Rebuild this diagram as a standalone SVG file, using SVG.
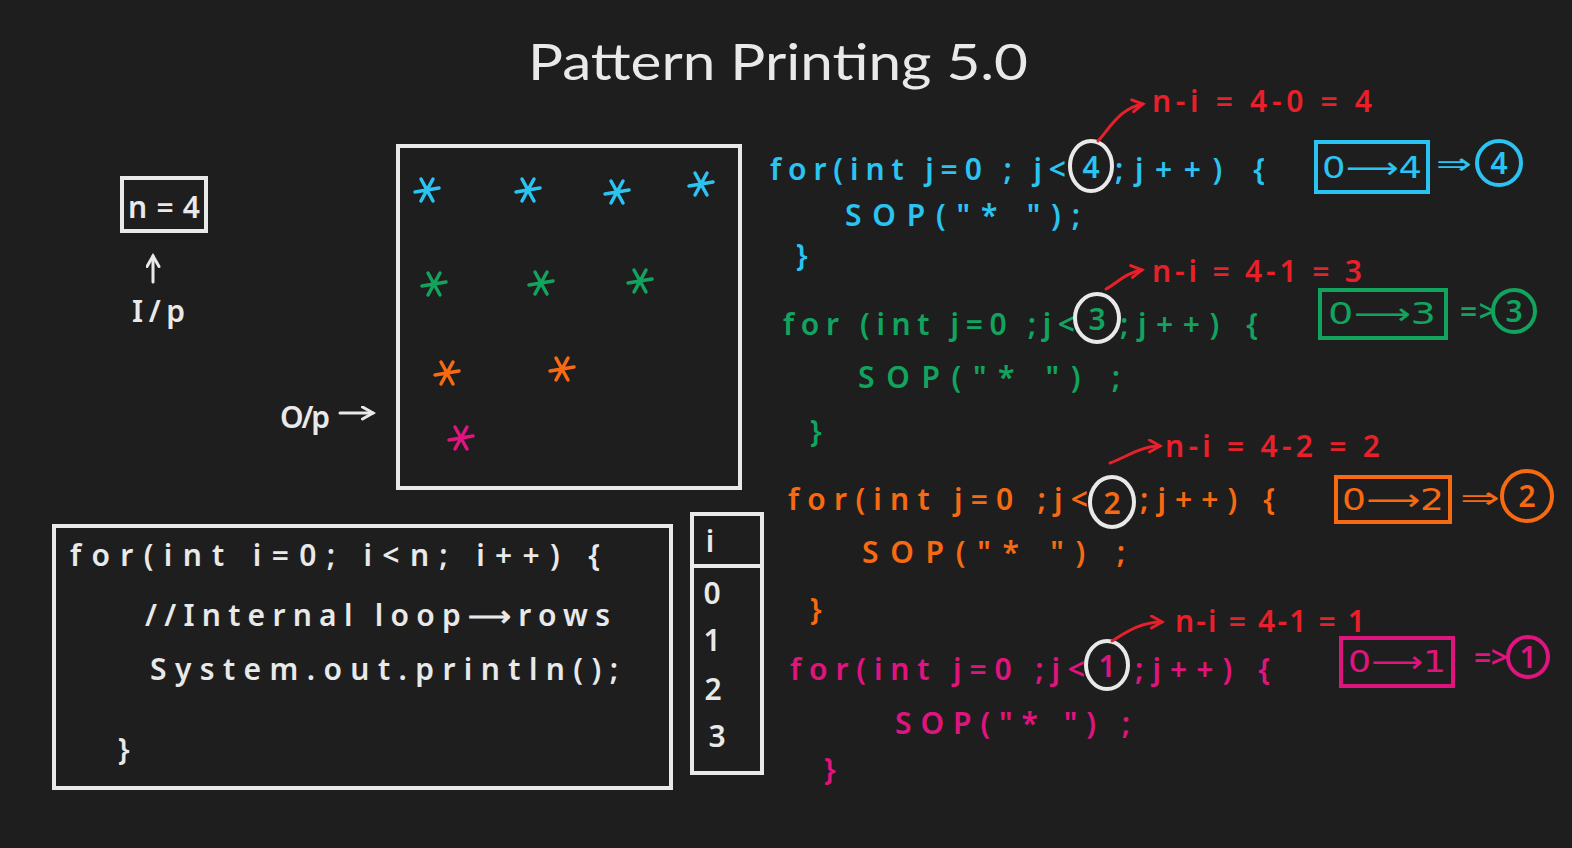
<svg xmlns="http://www.w3.org/2000/svg" width="1572" height="848" viewBox="0 0 1572 848">
<defs>
<style>
.t{font-family:"Noto Sans","Liberation Sans",sans-serif;font-weight:600;font-size:30px}
.d{font-family:"DejaVu Sans","Noto Sans",sans-serif;font-weight:400;font-size:30px}
.w{fill:#e9e9e9}.b{fill:#2bc4f2}.g{fill:#12a45f}.o{fill:#f76a12}.p{fill:#e0147f}.r{fill:#e8202a}
.sw{stroke:#e9e9e9}.sb{stroke:#2bc4f2}.sg{stroke:#12a45f}.so{stroke:#f76a12}.sp{stroke:#e0147f}.sr{stroke:#e8202a}
.box{fill:none;stroke-width:4;stroke-linecap:round}
.ln{fill:none;stroke-width:3;stroke-linecap:round;stroke-linejoin:round}
.c{text-anchor:middle}
</style>
<g id="star"><path d="M-12,2 L12,-2 M-6,-11 L6,11 M6,-11 L-6,11" stroke-width="3.5" stroke-linecap="round"/></g>
<marker id="ar" viewBox="0 0 10 10" refX="8" refY="5" markerWidth="5" markerHeight="5" orient="auto"><path d="M1,1 L8,5 L1,9" fill="none" stroke="#e8202a" stroke-width="2" stroke-linecap="round"/></marker>
<marker id="aw" viewBox="0 0 10 10" refX="8" refY="5" markerWidth="5" markerHeight="5" orient="auto"><path d="M1,1 L8,5 L1,9" fill="none" stroke="#e9e9e9" stroke-width="2" stroke-linecap="round"/></marker>
</defs>
<rect width="1572" height="848" fill="#1e1e1e"/>

<g id="title"><text x="528" y="80" class="w" font-family="Lato,'Noto Sans',sans-serif" font-size="50" font-weight="400" textLength="500" lengthAdjust="spacingAndGlyphs">Pattern Printing 5.0</text></g>

<g id="input">
<rect x="122" y="178" width="84" height="53" class="box sw"/>
<text x="128" y="218" class="t w" textLength="72">n=4</text>
<text x="132" y="322" class="t w" textLength="53">I/p</text>
</g>

<g id="output">
<rect x="398" y="146" width="342" height="342" class="box sw"/>
<text x="280" y="428" class="t w" textLength="50">O/p</text>
<use href="#star" x="427" y="190" class="sb"/>
<use href="#star" x="528" y="190" class="sb"/>
<use href="#star" x="617" y="192" class="sb"/>
<use href="#star" x="701" y="184" class="sb"/>
<use href="#star" x="434" y="284" class="sg"/>
<use href="#star" x="541" y="283" class="sg"/>
<use href="#star" x="640" y="281" class="sg"/>
<use href="#star" x="447" y="373" class="so"/>
<use href="#star" x="562" y="369" class="so"/>
<use href="#star" x="461" y="438" class="sp"/>
</g>

<g id="outer-loop">
<rect x="54" y="526" width="617" height="262" class="box sw"/>
<text x="70" y="566" class="t w" textLength="530">for(int i=0; i&lt;n; i++) {</text>
<text x="145" y="626" class="t w" textLength="465">//Internal loop⟶rows</text>
<text x="150" y="680" class="t w" textLength="468">System.out.println();</text>
<text x="118" y="760" class="t w" font-size="40">}</text>
</g>

<g id="i-table">
<rect x="692" y="514" width="70" height="259" class="box sw"/>
<line x1="692" y1="566" x2="762" y2="566" class="box sw"/>
<text x="710" y="552" class="t w c">i</text>
<text x="712" y="604" class="t w c">0</text>
<text x="712" y="651" class="t w c">1</text>
<text x="713" y="700" class="t w c">2</text>
<text x="717" y="747" class="t w c">3</text>
</g>

<g id="loop-i0">
<text x="770" y="180" class="t b" textLength="296">for(int j=0 ; j&lt;</text>
<ellipse cx="1091" cy="166" rx="21" ry="25" class="box sw"/>
<text x="1091" y="178" class="t b c">4</text>
<text x="1115" y="180" class="t b" textLength="150">;j++) {</text>
<text x="845" y="226" class="t b" textLength="235">SOP("* ");</text>
<text x="796" y="266" class="t b" font-size="40">}</text>
<text x="1152" y="112" class="t r" font-size="28" textLength="220">n-i = 4-0 = 4</text>
<rect x="1316" y="142" width="112" height="50" class="box sb"/>
<text x="1322" y="178" class="d b" textLength="100" lengthAdjust="spacingAndGlyphs">0⟶4</text>
<text x="1436" y="174" class="d b" textLength="36" lengthAdjust="spacingAndGlyphs">⇒</text>
<circle cx="1499" cy="163" r="22" class="box sb"/>
<text x="1499" y="174" class="t b c">4</text>
</g>

<g id="loop-i1">
<text x="783" y="335" class="t g" textLength="292">for (int j=0 ;j&lt;</text>
<ellipse cx="1097" cy="318" rx="22" ry="24" class="box sw"/>
<text x="1097" y="330" class="t g c">3</text>
<text x="1120" y="335" class="t g" textLength="138">;j++) {</text>
<text x="858" y="388" class="t g" textLength="262">SOP("* ") ;</text>
<text x="810" y="442" class="t g" font-size="40">}</text>
<text x="1152" y="282" class="t r" font-size="28" textLength="210">n-i = 4-1 = 3</text>
<rect x="1320" y="290" width="126" height="48" class="box sg"/>
<text x="1328" y="324" class="d g" textLength="108" lengthAdjust="spacingAndGlyphs">0⟶3</text>
<text x="1460" y="322" class="t g" textLength="36">=&gt;</text>
<circle cx="1514" cy="311" r="21" class="box sg"/>
<text x="1514" y="322" class="t g c">3</text>
</g>

<g id="loop-i2">
<text x="788" y="510" class="t o" textLength="300">for(int j=0 ;j&lt;</text>
<ellipse cx="1112" cy="502" rx="22" ry="25" class="box sw"/>
<text x="1112" y="514" class="t o c">2</text>
<text x="1140" y="510" class="t o" textLength="135">;j++) {</text>
<text x="862" y="563" class="t o" textLength="263">SOP("* ") ;</text>
<text x="810" y="620" class="t o" font-size="40">}</text>
<text x="1165" y="457" class="t r" font-size="28" textLength="215">n-i = 4-2 = 2</text>
<rect x="1336" y="477" width="114" height="45" class="box so"/>
<text x="1342" y="510" class="d o" textLength="102" lengthAdjust="spacingAndGlyphs">0⟶2</text>
<text x="1460" y="508" class="d o" textLength="40" lengthAdjust="spacingAndGlyphs">⇒</text>
<circle cx="1527" cy="496" r="25" class="box so"/>
<text x="1527" y="507" class="t o c">2</text>
</g>

<g id="loop-i3">
<text x="790" y="680" class="t p" textLength="295">for(int j=0 ;j&lt;</text>
<ellipse cx="1107" cy="665" rx="21" ry="24" class="box sw"/>
<text x="1107" y="677" class="t p c">1</text>
<text x="1135" y="680" class="t p" textLength="135">;j++) {</text>
<text x="895" y="734" class="t p" textLength="235">SOP("* ") ;</text>
<text x="824" y="780" class="t p" font-size="40">}</text>
<text x="1175" y="632" class="t r" font-size="28" textLength="190">n-i = 4-1 = 1</text>
<rect x="1341" y="638" width="112" height="48" class="box sp"/>
<text x="1348" y="672" class="d p" textLength="98" lengthAdjust="spacingAndGlyphs">0⟶1</text>
<text x="1474" y="668" class="t p" textLength="34">=&gt;</text>
<circle cx="1528" cy="657" r="20" class="box sp"/>
<text x="1528" y="668" class="t p c">1</text>
</g>

<g id="connectors">
<path d="M153,282 L153,256" class="ln sw" marker-end="url(#aw)"/>
<path d="M340,413 L373,413" class="ln sw" marker-end="url(#aw)"/>
<path d="M1098,141 C1110,128 1120,108 1143,104" class="ln sr" marker-end="url(#ar)"/>
<path d="M1106,289 C1118,282 1128,272 1142,270" class="ln sr" marker-end="url(#ar)"/>
<path d="M1110,463 C1125,458 1140,446 1160,446" class="ln sr" marker-end="url(#ar)"/>
<path d="M1112,641 C1125,633 1140,622 1162,622" class="ln sr" marker-end="url(#ar)"/>
</g>
</svg>
